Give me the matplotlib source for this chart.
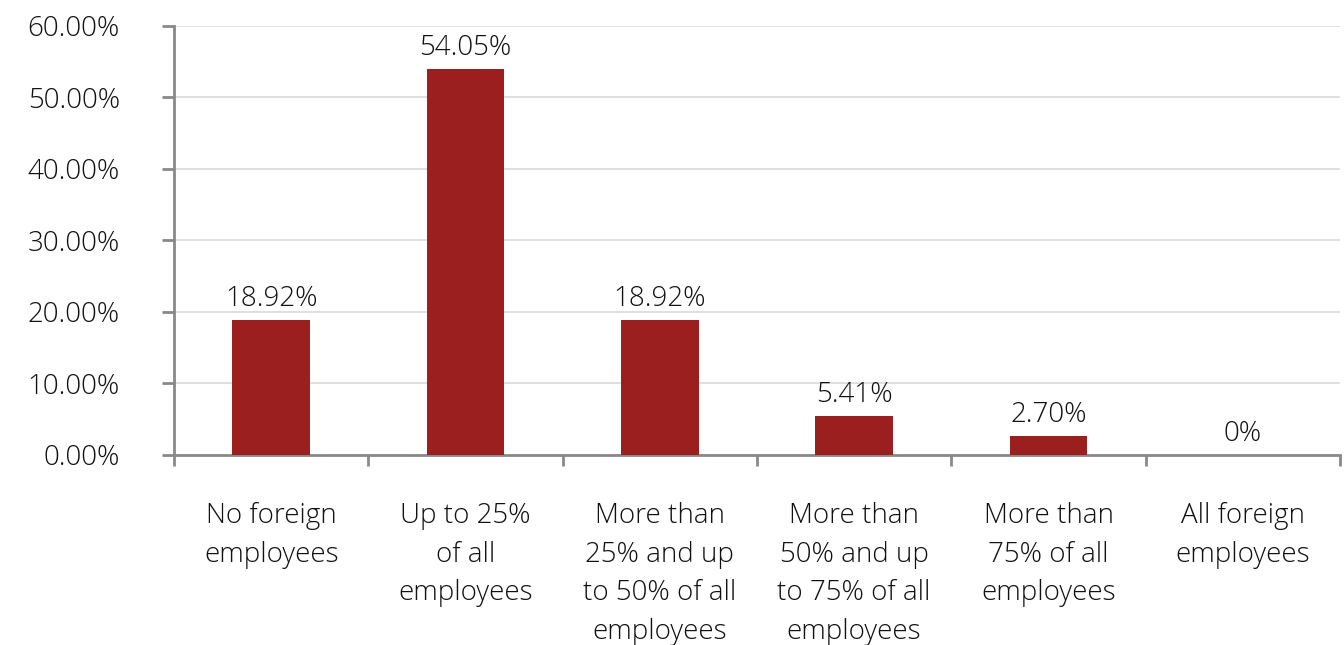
import matplotlib.pyplot as plt
import numpy as np
from matplotlib.ticker import FuncFormatter

categories = ["No foreign\nemployees", "Up to 25%\nof all\nemployees",
              "More than\n25% and up\nto 50% of all\nemployees",
              "More than\n50% and up\nto 75% of all\nemployees",
              "More than\n75% of all\nemployees", "All foreign\nemployees"]
values = [18.92, 54.05, 18.92, 5.41, 2.70, 0.0]
value_labels = ["18.92%", "54.05%", "18.92%", "5.41%", "2.70%", "0%"]

plt.rcParams['font.family'] = ['Open Sans', 'DejaVu Sans']
spine_col = '#898989'
fs = 20

fig = plt.figure(figsize=(13.44, 6.45), dpi=100)
ax = fig.add_axes([0.1295, 0.2946, 0.8675, 0.6651])

x = np.arange(len(values))
ax.bar(x, values, width=0.40, color='#9b1f1f', zorder=3)
for xi, v, lab in zip(x, values, value_labels):
    ax.annotate(lab, (xi, v), xytext=(0, 5), textcoords='offset points',
                ha='center', va='bottom', fontsize=fs, color='#111111',
                fontweight='light')

ax.set_xlim(-0.5, len(values) - 0.5)
ax.set_ylim(0, 60)
ax.set_yticks(np.arange(0, 61, 10))
ax.yaxis.set_major_formatter(FuncFormatter(lambda v, p: f"{v:.2f}%"))
ax.grid(axis='y', color='#d9d9d9', linewidth=1.2, zorder=0)

# ticks between categories, labels centred under each bar
ax.set_xticks(np.arange(-0.5, len(values), 1.0))
ax.set_xticklabels([])
ax.set_xticks(x, minor=True)
ax.set_xticklabels(categories, minor=True, fontsize=fs, linespacing=1.5,
                   color='#111111', fontweight='light')
ax.tick_params(axis='x', which='major', length=8, width=2, color=spine_col,
               direction='out')
ax.tick_params(axis='x', which='minor', length=0, pad=34)
ax.tick_params(axis='y', length=9, width=2, color=spine_col, pad=30,
               labelsize=fs, labelcolor='#111111')
for lab in ax.get_yticklabels():
    lab.set_horizontalalignment('right')
    lab.set_fontweight('light')

for s in ['top', 'right']:
    ax.spines[s].set_visible(False)
for s in ['left', 'bottom']:
    ax.spines[s].set_color(spine_col)
    ax.spines[s].set_linewidth(2)

fig.savefig('out.png', dpi=100)
